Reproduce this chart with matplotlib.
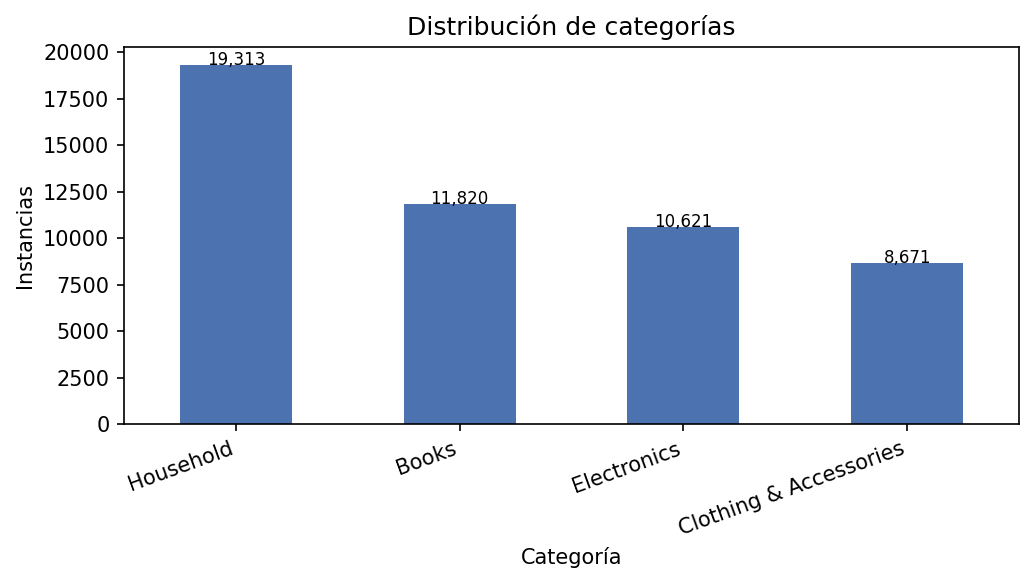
import matplotlib
matplotlib.use("Agg")
import matplotlib.pyplot as plt

categories = ["Household", "Books", "Electronics", "Clothing & Accessories"]
counts = [19313, 11820, 10621, 8671]

fig = plt.figure(figsize=(1034/150, 583/150), dpi=150)
ax = fig.add_axes([124/1034, 1-424/583, (1019-124)/1034, (424-47)/583])
bars = ax.bar(range(len(categories)), counts, width=0.5, color="#4c72b0")
for i, v in enumerate(counts):
    ax.text(i, v, f"{v:,}", ha="center", va="baseline", fontsize=8)
ax.set_xticks(range(len(categories)))
ax.set_xticklabels(categories, rotation=20, ha="right")
ax.set_xlim(-0.5, 3.5)
ax.set_title("Distribución de categorías")
ax.set_xlabel("Categoría")
ax.set_ylabel("Instancias")
fig.savefig("out.png", dpi=150)
